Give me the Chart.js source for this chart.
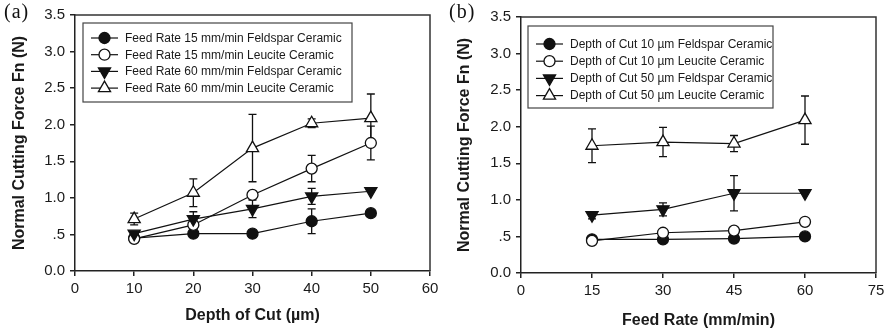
<!DOCTYPE html>
<html>
<head>
<meta charset="utf-8">
<script src="https://cdn.jsdelivr.net/npm/chart.js@4/dist/chart.umd.min.js"></script>
<style>
  html, body { margin: 0; padding: 0; background: #fff; }
  #wrap { position: relative; width: 890px; height: 333px; overflow: hidden; }
  .panel { position: absolute; top: 0; width: 445px; height: 333px; }
  .tag { position: absolute; top: 0px; font-family: "Liberation Serif", "DejaVu Serif", serif; font-size: 20px; letter-spacing: 1px; color: #111; }
</style>
</head>
<body>
<div id="wrap">
  <div class="panel" style="left:0"><canvas id="chartA" width="445" height="333"></canvas></div>
  <div class="panel" style="left:445px"><canvas id="chartB" width="445" height="333"></canvas></div>
  <div class="tag" style="left:4px">(a)</div>
  <div class="tag" style="left:449px">(b)</div>
</div>
<script>
// Panel (a): normal force vs depth of cut
const depthOfCut = [10, 20, 30, 40, 50];
const feed15Feldspar = [0.45, 0.51, 0.51, 0.68, 0.79];
const feed15Leucite  = [0.44, 0.63, 1.04, 1.40, 1.75];
const feed60Feldspar = [0.51, 0.71, 0.85, 1.02, 1.09];
const feed60Leucite  = [0.71, 1.07, 1.68, 2.02, 2.09];
// standard deviations (0 = bar hidden inside the marker)
const feed15FeldsparSd = [0, 0, 0, 0.17, 0];
const feed15LeuciteSd  = [0, 0, 0, 0.18, 0.23];
const feed60FeldsparSd = [0, 0.10, 0.12, 0.11, 0];
const feed60LeuciteSd  = [0.08, 0.19, 0.46, 0.06, 0.33];
const labelsA = [
  'Feed Rate 15 mm/min Feldspar Ceramic',
  'Feed Rate 15 mm/min Leucite Ceramic',
  'Feed Rate 60 mm/min Feldspar Ceramic',
  'Feed Rate 60 mm/min Leucite Ceramic'
];

// Panel (b): normal force vs feed rate
const feedRate = [15, 30, 45, 60];
const depth10Feldspar = [0.46, 0.46, 0.47, 0.50];
const depth10Leucite  = [0.44, 0.55, 0.58, 0.70];
const depth50Feldspar = [0.79, 0.87, 1.09, 1.09];
const depth50Leucite  = [1.74, 1.79, 1.77, 2.09];
const depth10FeldsparSd = [0, 0, 0, 0];
const depth10LeuciteSd  = [0, 0, 0, 0];
const depth50FeldsparSd = [0.05, 0.09, 0.24, 0];
const depth50LeuciteSd  = [0.23, 0.20, 0.11, 0.33];
const labelsB = [
  'Depth of Cut 10 \u00b5m Feldspar Ceramic',
  'Depth of Cut 10 \u00b5m Leucite Ceramic',
  'Depth of Cut 50 \u00b5m Feldspar Ceramic',
  'Depth of Cut 50 \u00b5m Leucite Ceramic'
];

const yTickLabels = ['0.0', '.5', '1.0', '1.5', '2.0', '2.5', '3.0', '3.5'];
const yTitle = 'Normal Cutting Force Fn (N)';

const SANS = '"Liberation Sans", Arial, sans-serif';
const INK = '#1a1a1a';

// marker styles shared by both panels: filled circle, open circle, filled down-triangle, open triangle
const markerStyles = [
  { pointStyle: 'circle',   rotation: 0,   pointRadius: 5.5, pointBackgroundColor: '#111' },
  { pointStyle: 'circle',   rotation: 0,   pointRadius: 5.5, pointBackgroundColor: '#fff' },
  { pointStyle: 'triangle', rotation: 180, pointRadius: 7,   pointBackgroundColor: '#111' },
  { pointStyle: 'triangle', rotation: 0,   pointRadius: 7,   pointBackgroundColor: '#fff' }
];

function makeDataset(label, xs, ys, sd, idx) {
  const m = markerStyles[idx];
  return {
    label,
    data: xs.map((x, i) => ({ x, y: ys[i] })),
    errorBars: sd,
    borderColor: '#111',
    borderWidth: 1.2,
    pointStyle: m.pointStyle,
    pointRotation: m.rotation,
    pointRadius: m.pointRadius,
    pointHoverRadius: m.pointRadius,
    pointBackgroundColor: m.pointBackgroundColor,
    pointBorderColor: '#111',
    pointBorderWidth: 1.3,
    fill: false,
    tension: 0,
    order: 3 - idx
  };
}

// vertical error bars with caps, drawn under the markers
const errorBarPlugin = {
  id: 'errorBars',
  beforeDatasetsDraw(chart) {
    const ctx = chart.ctx;
    const yScale = chart.scales.y;
    ctx.save();
    ctx.strokeStyle = '#111';
    ctx.lineWidth = 1.3;
    chart.data.datasets.forEach((ds, di) => {
      const meta = chart.getDatasetMeta(di);
      meta.data.forEach((pt, i) => {
        const e = ds.errorBars ? ds.errorBars[i] : 0;
        if (!e) return;
        const v = ds.data[i].y;
        const yTop = yScale.getPixelForValue(v + e);
        const yBot = yScale.getPixelForValue(v - e);
        const x = pt.x, cap = 4;
        ctx.beginPath();
        ctx.moveTo(x, yTop); ctx.lineTo(x, yBot);
        ctx.moveTo(x - cap, yTop); ctx.lineTo(x + cap, yTop);
        ctx.moveTo(x - cap, yBot); ctx.lineTo(x + cap, yBot);
        ctx.stroke();
      });
    });
    ctx.restore();
  }
};

// closes the plot frame on the top and right sides
const framePlugin = {
  id: 'frame',
  beforeDatasetsDraw(chart) {
    const { ctx, chartArea: a } = chart;
    ctx.save();
    ctx.strokeStyle = '#333';
    ctx.lineWidth = 1.5;
    ctx.beginPath();
    ctx.moveTo(a.left, a.top);
    ctx.lineTo(a.right, a.top);
    ctx.lineTo(a.right, a.bottom);
    ctx.stroke();
    ctx.restore();
  }
};

// boxed legend with a line-through-marker key for each series
const lineLegendPlugin = {
  id: 'lineLegend',
  afterDatasetsDraw(chart, args, opts) {
    const { ctx, chartArea: a } = chart;
    const bx = a.left + opts.dx, by = a.top + opts.dy;
    ctx.save();
    ctx.fillStyle = '#fff';
    ctx.fillRect(bx, by, opts.w, opts.h);
    ctx.strokeStyle = '#444';
    ctx.lineWidth = 1.2;
    ctx.strokeRect(bx, by, opts.w, opts.h);
    chart.data.datasets.forEach((ds, i) => {
      const y = by + opts.first + i * opts.gap;
      ctx.strokeStyle = '#111';
      ctx.lineWidth = 1.2;
      ctx.beginPath();
      ctx.moveTo(bx + 8, y); ctx.lineTo(bx + 35, y);
      ctx.stroke();
      ctx.fillStyle = ds.pointBackgroundColor;
      ctx.strokeStyle = ds.pointBorderColor;
      ctx.lineWidth = ds.pointBorderWidth;
      Chart.helpers.drawPoint(ctx, {
        pointStyle: ds.pointStyle,
        rotation: ds.pointRotation,
        radius: ds.pointRadius,
        borderWidth: ds.pointBorderWidth
      }, bx + 21.5, y);
      ctx.fillStyle = INK;
      ctx.font = '12px ' + SANS;
      ctx.textAlign = 'left';
      ctx.textBaseline = 'middle';
      ctx.fillText(ds.label, bx + 42, y + 0.5);
    });
    ctx.restore();
  }
};

function axisCommon() {
  return {
    grid: { display: true, drawOnChartArea: false, drawTicks: true, tickLength: 5, color: '#222', lineWidth: 1.5 },
    border: { display: true, color: '#222', width: 1.5 }
  };
}

function buildChart(canvasId, cfg) {
  return new Chart(document.getElementById(canvasId), {
    type: 'line',
    data: { datasets: cfg.datasets },
    options: {
      responsive: false,
      animation: false,
      devicePixelRatio: 1,
      layout: { padding: { top: cfg.padTop, right: cfg.padRight, left: 0, bottom: 0 } },
      scales: {
        x: Object.assign(axisCommon(), {
          type: 'linear',
          min: cfg.xMin, max: cfg.xMax,
          ticks: { stepSize: cfg.xStep, color: INK, font: { family: SANS, size: 15 }, padding: 4, maxRotation: 0 },
          title: { display: true, text: cfg.xTitle, color: INK, font: { family: SANS, size: 16, weight: 'bold' }, padding: { top: 0, bottom: cfg.xTitlePad } },
          afterFit(s) { s.height = cfg.xHeight; }
        }),
        y: Object.assign(axisCommon(), {
          type: 'linear',
          min: 0, max: 3.5,
          ticks: { stepSize: 0.5, color: INK, font: { family: SANS, size: 15 }, padding: 5,
                   callback: (v, i) => yTickLabels[i] },
          title: { display: true, text: yTitle, color: INK, font: { family: SANS, size: 16, weight: 'bold' }, padding: { top: 10, bottom: 0 } },
          afterFit(s) { s.width = cfg.yWidth; }
        })
      },
      plugins: {
        legend: { display: false },
        tooltip: { enabled: false },
        lineLegend: cfg.legend
      }
    },
    plugins: [framePlugin, errorBarPlugin, lineLegendPlugin]
  });
}

buildChart('chartA', {
  datasets: [
    makeDataset(labelsA[0], depthOfCut, feed15Feldspar, feed15FeldsparSd, 0),
    makeDataset(labelsA[1], depthOfCut, feed15Leucite,  feed15LeuciteSd,  1),
    makeDataset(labelsA[2], depthOfCut, feed60Feldspar, feed60FeldsparSd, 2),
    makeDataset(labelsA[3], depthOfCut, feed60Leucite,  feed60LeuciteSd,  3)
  ],
  xMin: 0, xMax: 60, xStep: 10,
  xTitle: 'Depth of Cut (\u00b5m)',
  padTop: 15, padRight: 15, yWidth: 75, xHeight: 62, xTitlePad: 7.6,
  legend: { dx: 8, dy: 8, w: 269, h: 79, first: 15, gap: 16.7 }
});

buildChart('chartB', {
  datasets: [
    makeDataset(labelsB[0], feedRate, depth10Feldspar, depth10FeldsparSd, 0),
    makeDataset(labelsB[1], feedRate, depth10Leucite,  depth10LeuciteSd,  1),
    makeDataset(labelsB[2], feedRate, depth50Feldspar, depth50FeldsparSd, 2),
    makeDataset(labelsB[3], feedRate, depth50Leucite,  depth50LeuciteSd,  3)
  ],
  xMin: 0, xMax: 75, xStep: 15,
  xTitle: 'Feed Rate (mm/min)',
  padTop: 17, padRight: 14, yWidth: 76, xHeight: 60, xTitlePad: 2.7,
  legend: { dx: 7, dy: 9, w: 245, h: 82, first: 18, gap: 17.2 }
});
</script>
</body>
</html>
